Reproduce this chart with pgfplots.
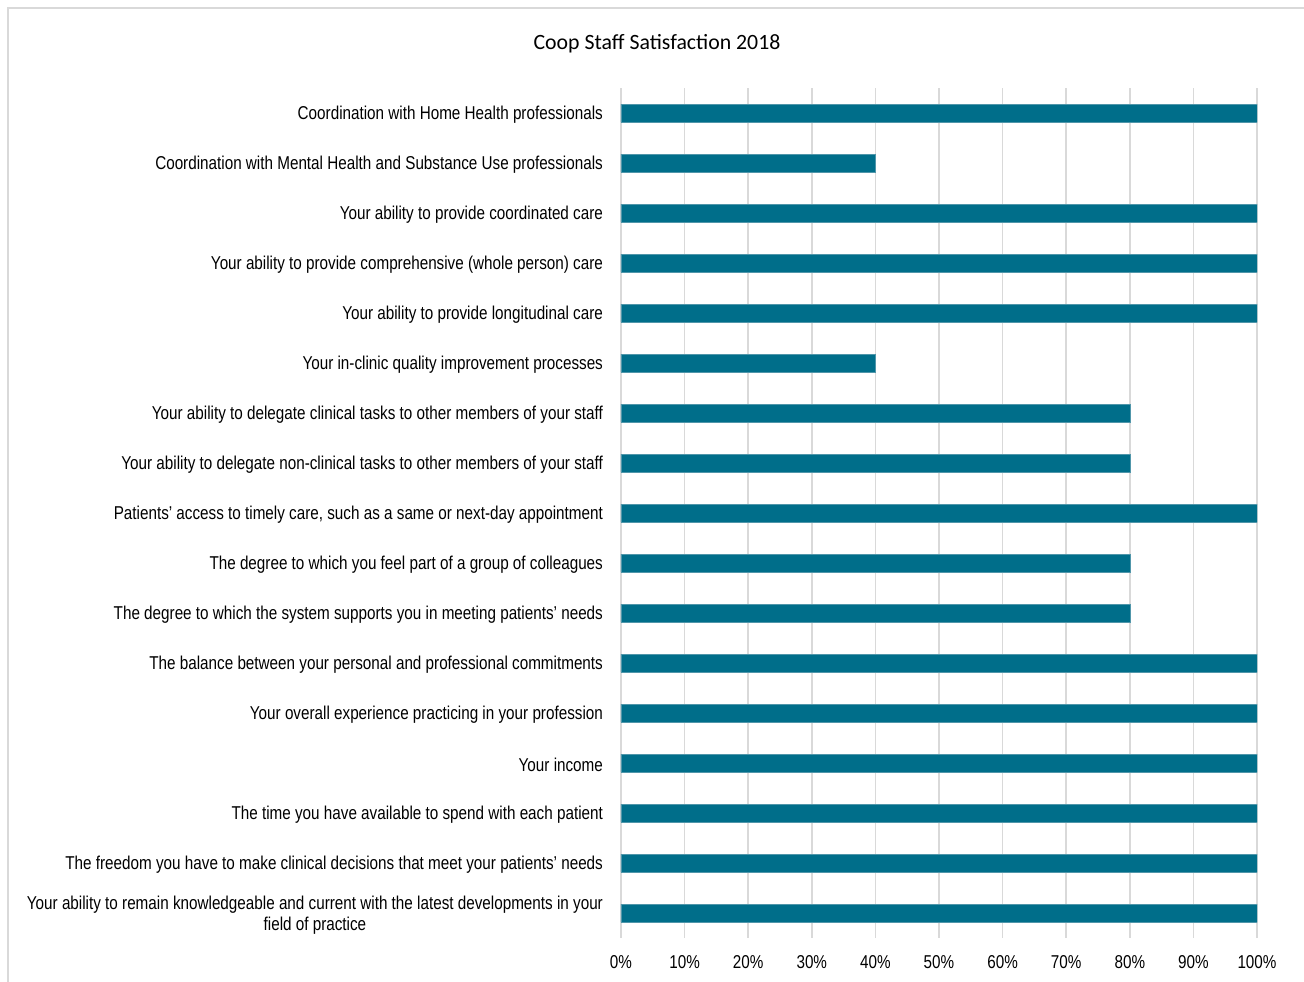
\documentclass[border=0pt]{standalone}
\usepackage{fontspec}
\setmainfont{Liberation Sans}
\newfontfamily\narrow[FakeStretch=0.82]{Liberation Sans}
\newfontfamily\titlefont{Carlito}
\usepackage{pgfplots}
\pgfplotsset{compat=1.18}
\definecolor{barc}{RGB}{0,110,138}
\definecolor{baredge}{RGB}{80,150,170}
\definecolor{gridc}{RGB}{217,217,217}
\begin{document}
\begin{tikzpicture}
\useasboundingbox (-310.5pt,-22pt) rectangle (341.5pt,468.5pt);
\draw[gridc, line width=0.75pt] (-306.5pt,-40pt) -- (-306.5pt,464.5pt) -- (360pt,464.5pt);
\begin{axis}[
  at={(0,-0.5pt)}, anchor=south west,
  scale only axis, width=318pt, height=425pt,
  xbar, bar width=9pt,
  xmin=0, xmax=100, ymin=-0.5, ymax=16.5, y dir=reverse,
  ytick={0,...,16},
  yticklabels={
    Coordination with Home Health professionals,
    Coordination with Mental Health and Substance Use professionals,
    Your ability to provide coordinated care,
    Your ability to provide comprehensive (whole person) care,
    Your ability to provide longitudinal care,
    Your in-clinic quality improvement processes,
    Your ability to delegate clinical tasks to other members of your staff,
    Your ability to delegate non-clinical tasks to other members of your staff,
    {Patients’ access to timely care, such as a same or next-day appointment},
    The degree to which you feel part of a group of colleagues,
    The degree to which the system supports you in meeting patients’ needs,
    The balance between your personal and professional commitments,
    Your overall experience practicing in your profession,
    Your income,
    The time you have available to spend with each patient,
    The freedom you have to make clinical decisions that meet your patients’ needs,
    {Your ability to remain knowledgeable and current with the latest developments in your\\field of practice}
  },
  xtick={0,10,...,100},
  xticklabel={\pgfmathprintnumber{\tick}\%},
  /pgf/number format/assume math mode=true,
  xmajorgrids, grid style={gridc, line width=0.75pt},
  axis line style={draw=none},
  major tick length=0pt,
  tick label style={font=\narrow\fontsize{9.3}{10.6}\selectfont},
  yticklabel style={align=center, xshift=-5.5pt, yshift=-1pt},
  xticklabel style={yshift=-5pt},
]
\addplot[fill=barc, draw=baredge, line width=0.3pt] coordinates {
  (100,0) (40,1) (100,2) (100,3) (100,4) (40,5) (80,6) (80,7) (100,8)
  (80,9) (80,10) (100,11) (100,12) (100,13) (100,14) (100,15) (100,16)
};
\end{axis}
\node[font=\titlefont\fontsize{10.9}{13}\selectfont, anchor=center] at (18pt,446.5pt) {Coop Staff Satisfaction 2018};
\end{tikzpicture}
\end{document}
